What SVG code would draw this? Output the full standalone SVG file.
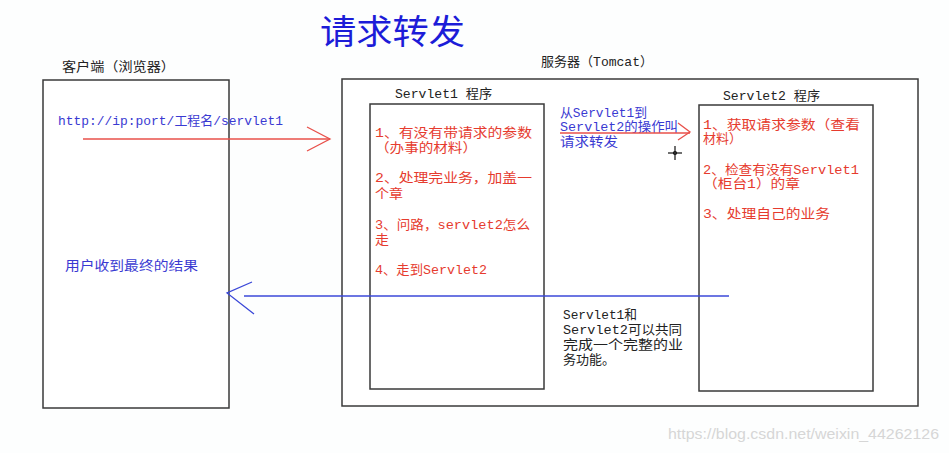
<svg xmlns="http://www.w3.org/2000/svg" width="949" height="453" viewBox="0 0 949 453">
<style>
  .box { fill: #ffffff; stroke: #3a3a3a; stroke-width: 1.5; }
  .t { font-family: "Liberation Mono", "Noto Sans CJK SC", monospace; font-size: 13px; }
  .red { fill: #e63b2e; }
  .blue { fill: #3a3ad2; }
  .dark { fill: #222222; }
  .title { font-family: "Noto Sans CJK SC", serif; font-size: 34px; fill: #1c1cd8; }
  .wm { font-family: "Liberation Sans", Arial, sans-serif; font-size: 15px; fill: #d6d6d6; }
</style>
<rect x="0" y="0" width="949" height="453" fill="#fdfefe"/>

<g id="title"><text class="title" x="320" y="44" textLength="145" lengthAdjust="spacingAndGlyphs">请求转发</text></g>

<g id="client">
  <text class="t dark" x="62" y="71" textLength="113" lengthAdjust="spacingAndGlyphs">客户端（浏览器）</text>
  <rect class="box" x="43" y="80" width="186" height="328"/>
  <text class="t blue" x="58" y="125" textLength="225" lengthAdjust="spacingAndGlyphs">http://ip:port/工程名/servlet1</text>
  <text class="t blue" x="65" y="270" textLength="133" lengthAdjust="spacingAndGlyphs">用户收到最终的结果</text>
</g>

<g id="server">
  <text class="t dark" x="541" y="66" textLength="112" lengthAdjust="spacingAndGlyphs">服务器（Tomcat）</text>
  <rect class="box" x="342" y="79" width="576" height="327"/>
</g>

<g id="servlet1">
  <text class="t dark" x="395" y="98" textLength="97" lengthAdjust="spacingAndGlyphs">Servlet1 程序</text>
  <rect class="box" x="370" y="104" width="174" height="285"/>
  <text class="t red" x="375" y="137" textLength="157" lengthAdjust="spacingAndGlyphs">1、有没有带请求的参数</text>
  <text class="t red" x="375" y="152" textLength="102" lengthAdjust="spacingAndGlyphs">（办事的材料）</text>
  <text class="t red" x="375" y="182" textLength="157" lengthAdjust="spacingAndGlyphs">2、处理完业务，加盖一</text>
  <text class="t red" x="375" y="198" textLength="28" lengthAdjust="spacingAndGlyphs">个章</text>
  <text class="t red" x="375" y="229" textLength="155" lengthAdjust="spacingAndGlyphs">3、问路，servlet2怎么</text>
  <text class="t red" x="375" y="244" textLength="14" lengthAdjust="spacingAndGlyphs">走</text>
  <text class="t red" x="375" y="274" textLength="112" lengthAdjust="spacingAndGlyphs">4、走到Servlet2</text>
</g>

<g id="servlet2">
  <text class="t dark" x="723" y="100" textLength="97" lengthAdjust="spacingAndGlyphs">Servlet2 程序</text>
  <rect class="box" x="699" y="105" width="174" height="286"/>
  <text class="t red" x="703" y="129" textLength="157" lengthAdjust="spacingAndGlyphs">1、获取请求参数（查看</text>
  <text class="t red" x="703" y="143" textLength="39" lengthAdjust="spacingAndGlyphs">材料）</text>
  <text class="t red" x="703" y="174" textLength="156" lengthAdjust="spacingAndGlyphs">2、检查有没有Servlet1</text>
  <text class="t red" x="703" y="188" textLength="97" lengthAdjust="spacingAndGlyphs">（柜台1）的章</text>
  <text class="t red" x="703" y="218" textLength="127" lengthAdjust="spacingAndGlyphs">3、处理自己的业务</text>
</g>

<g id="forward-note">
  <text class="t blue" x="560" y="117" textLength="87" lengthAdjust="spacingAndGlyphs">从Servlet1到</text>
  <text class="t blue" x="560" y="131" textLength="118" lengthAdjust="spacingAndGlyphs">Servlet2的操作叫</text>
  <text class="t blue" x="560" y="146" textLength="58" lengthAdjust="spacingAndGlyphs">请求转发</text>
</g>

<g id="together-note">
  <text class="t dark" x="563" y="319" textLength="74" lengthAdjust="spacingAndGlyphs">Servlet1和</text>
  <text class="t dark" x="563" y="334" textLength="119" lengthAdjust="spacingAndGlyphs">Servlet2可以共同</text>
  <text class="t dark" x="563" y="349" textLength="120" lengthAdjust="spacingAndGlyphs">完成一个完整的业</text>
  <text class="t dark" x="563" y="364" textLength="52" lengthAdjust="spacingAndGlyphs">务功能。</text>
</g>

<g id="connectors" fill="none" stroke-width="1.3">
  <g stroke="#e8504a">
    <line x1="83" y1="139" x2="330" y2="139"/>
    <polyline points="307,127 330,139 307,151"/>
    <line x1="560" y1="133" x2="690" y2="133"/>
    <polyline points="678,123 690,132 678,140"/>
  </g>
  <g stroke="#3b48d8">
    <line x1="729" y1="296" x2="244" y2="296"/>
    <polyline points="252,282 227,293 254,314"/>
  </g>
</g>

<g id="cursor" stroke="#111" stroke-width="1.2" fill="none">
  <line x1="668" y1="153" x2="682" y2="153"/>
  <line x1="675" y1="146" x2="675" y2="160"/>
  <circle cx="675" cy="153" r="1.5"/>
</g>

<g id="watermark"><text class="wm" x="668" y="439" textLength="271" lengthAdjust="spacingAndGlyphs">https://blog.csdn.net/weixin_44262126</text></g>
</svg>
